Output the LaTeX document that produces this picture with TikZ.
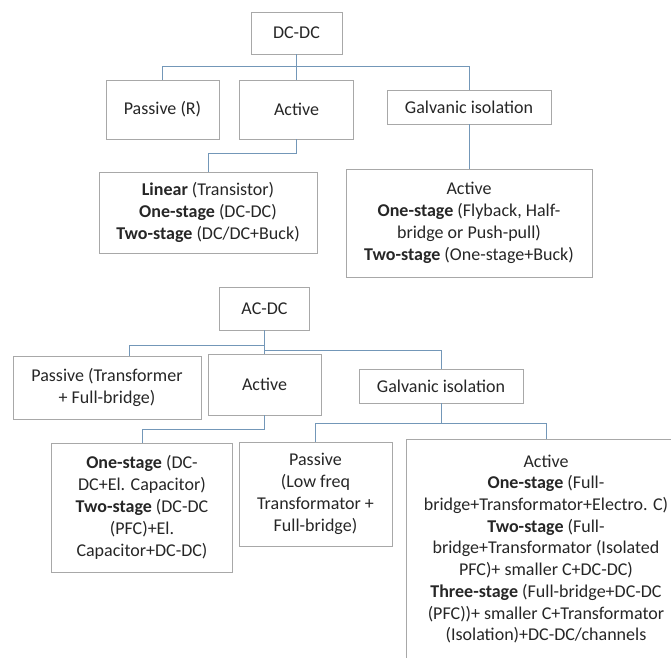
\documentclass[tikz,border=0pt]{standalone}
\usepackage{fontspec}
\setmainfont{Carlito}
\usetikzlibrary{calc}
\definecolor{boxgray}{HTML}{A8A8A8}
\definecolor{conncol}{HTML}{7397B8}
\definecolor{txt}{HTML}{262626}
\tikzset{
  box/.style={draw=boxgray, line width=0.9pt, align=center, inner sep=0pt, text=txt,
              font=\fontsize{18}{22}\selectfont},
  conn/.style={draw=conncol, line width=1pt},
}
\begin{document}
\begin{tikzpicture}[x=1pt,y=-1pt]
\useasboundingbox (0,0) rectangle (671,657);
\clip (0,0) rectangle (671,657);
% ---------- DC-DC ----------
\node[box, minimum width=91, minimum height=42] (dcdc) at (296.5,33) {DC-DC};
\node[box, minimum width=113, minimum height=59] (dcpas) at (162.5,109.5) {Passive (R)};
\node[box, minimum width=114, minimum height=59] (dcact) at (296.5,109.5) {Active};
\node[box, minimum width=164, minimum height=34] (dcgal) at (469,107) {Galvanic isolation};
\node[box, minimum width=218, minimum height=81] (dclin) at (208,212.5)
  {\textbf{Linear} (Transistor)\\\textbf{One-stage} (DC-DC)\\\textbf{Two-stage} (DC/DC+Buck)};
\node[box, minimum width=246, minimum height=108] (dciso) at (469,223)
  {Active\\\textbf{One-stage} (Flyback, Half-\\bridge or Push-pull)\\\textbf{Two-stage} (One-stage+Buck)};
\draw[conn] (dcdc.south) -- (dcact.north);
\draw[conn] (dcpas.north) -- ++(0,-13) -| (dcgal.north);
\draw[conn] (dcact.south) -- ++(0,14) -| (dclin.north);
\draw[conn] (dcgal.south) -- (dciso.north);
% ---------- AC-DC ----------
\node[box, minimum width=90, minimum height=43] (acdc) at (264.5,308.5) {AC-DC};
\node[box, minimum width=188, minimum height=63] (acpas) at (107,387.5)
  {Passive (Transformer\\+ Full-bridge)};
\node[box, minimum width=113, minimum height=61] (acact) at (264.5,384.5) {Active};
\node[box, minimum width=164, minimum height=34] (acgal) at (441,386) {Galvanic isolation};
\node[box, minimum width=181, minimum height=129] (acl) at (142,507.5)
  {\textbf{One-stage} (DC-\\DC+El. Capacitor)\\\textbf{Two-stage} (DC-DC\\(PFC)+El.\\Capacitor+DC-DC)};
\node[box, minimum width=153, minimum height=104] (acp2) at (315.5,494)
  {Passive\\(Low freq\\Transformator +\\Full-bridge)};
\node[box, minimum width=280, minimum height=220,
      font=\fontsize{18}{21.7}\selectfont] (acr) at (546,549)
  {Active\\\textbf{One-stage} (Full-\\bridge+Transformator+Electro. C)\\\textbf{Two-stage} (Full-\\bridge+Transformator (Isolated\\PFC)+ smaller C+DC-DC)\\\textbf{Three-stage} (Full-bridge+DC-DC\\(PFC))+ smaller C+Transformator\\(Isolation)+DC-DC/channels};
\draw[conn] (acdc.south) -- (acact.north);
\draw[conn] ($(acdc.south)+(0,15)$) -| ($(acpas.north)+(22,0)$);
\draw[conn] ($(acdc.south)+(0,20)$) -| (acgal.north);
\draw[conn] (acact.south) -- ++(0,14) -| (acl.north);
\draw[conn] (acgal.south) -- ++(0,20) coordinate (gj);
\draw[conn] (acp2.north) |- (gj) -| (acr.north);
\end{tikzpicture}
\end{document}
